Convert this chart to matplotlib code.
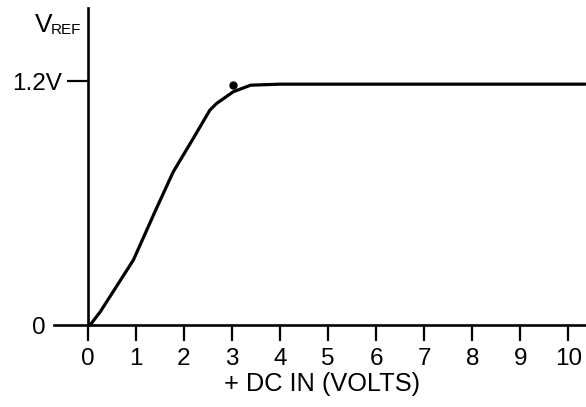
import matplotlib
matplotlib.use('Agg')
import matplotlib.pyplot as plt
from matplotlib.ticker import FixedLocator, FixedFormatter

plt.rcParams['font.family'] = ['Liberation Sans', 'DejaVu Sans']

# curve: +DC in (volts) vs V_REF (volts)
dc_in = [0.05, 0.26, 0.68, 0.95, 1.26, 1.43, 1.78, 2.2, 2.54, 2.68, 3.03, 3.39, 4.0, 10.35]
v_ref = [0.0, 0.065, 0.22, 0.32, 0.484, 0.574, 0.754, 0.92, 1.057, 1.09, 1.148, 1.18, 1.185, 1.185]

# the single dot above the knee
dot_x = [3.03]
dot_y = [1.18]

x_ticks = list(range(0, 11))
x_tick_labels = [str(v) for v in x_ticks]
y_ticks = [1.2]
y_tick_labels = ['1.2V']

fig = plt.figure(figsize=(5.86, 4.07), dpi=100)
ax = fig.add_axes([0, 0, 1, 1])

ax.plot(dc_in, v_ref, color='black', linewidth=2.3, solid_capstyle='round', solid_joinstyle='round')
ax.plot(dot_x, dot_y, 'o', color='black', markersize=5)

ax.set_xlim(-1.824, 10.364)
ax.set_ylim(-0.403, 1.599)

# axis lines crossing at the origin
for side in ['top', 'right']:
    ax.spines[side].set_visible(False)
ax.spines['left'].set_position(('data', 0))
ax.spines['bottom'].set_position(('data', 0))
ax.spines['left'].set_bounds(0, 1.56)
ax.spines['bottom'].set_bounds(-0.71, 10.364)
ax.spines['left'].set_linewidth(1.9)
ax.spines['bottom'].set_linewidth(1.9)
ax.patch.set_visible(False)

ax.set_xticks(x_ticks)
ax.set_xticklabels(x_tick_labels)
ax.tick_params(axis='x', direction='out', length=11.5, width=1.6, pad=5, labelsize=17.5)

ax.yaxis.set_major_locator(FixedLocator(y_ticks))
ax.yaxis.set_major_formatter(FixedFormatter(y_tick_labels))
ax.tick_params(axis='y', which='major', direction='out', length=15, width=1.6, pad=3.5, labelsize=17.5)
ax.yaxis.set_minor_locator(FixedLocator([0]))
ax.yaxis.set_minor_formatter(FixedFormatter(['0']))
ax.tick_params(axis='y', which='minor', direction='out', length=0, width=0, pad=30, labelsize=17.5)

# axis titles
ax.text(5.0 - 0.13, -0.325, '+ DC IN (VOLTS)', ha='center', va='baseline', fontsize=18.3)
ax.text(-1.1, 1.44, 'V', ha='left', va='baseline', fontsize=19)
ax.text(-0.76, 1.43, 'REF', ha='left', va='baseline', fontsize=11)

fig.savefig('out.png', dpi=100)
